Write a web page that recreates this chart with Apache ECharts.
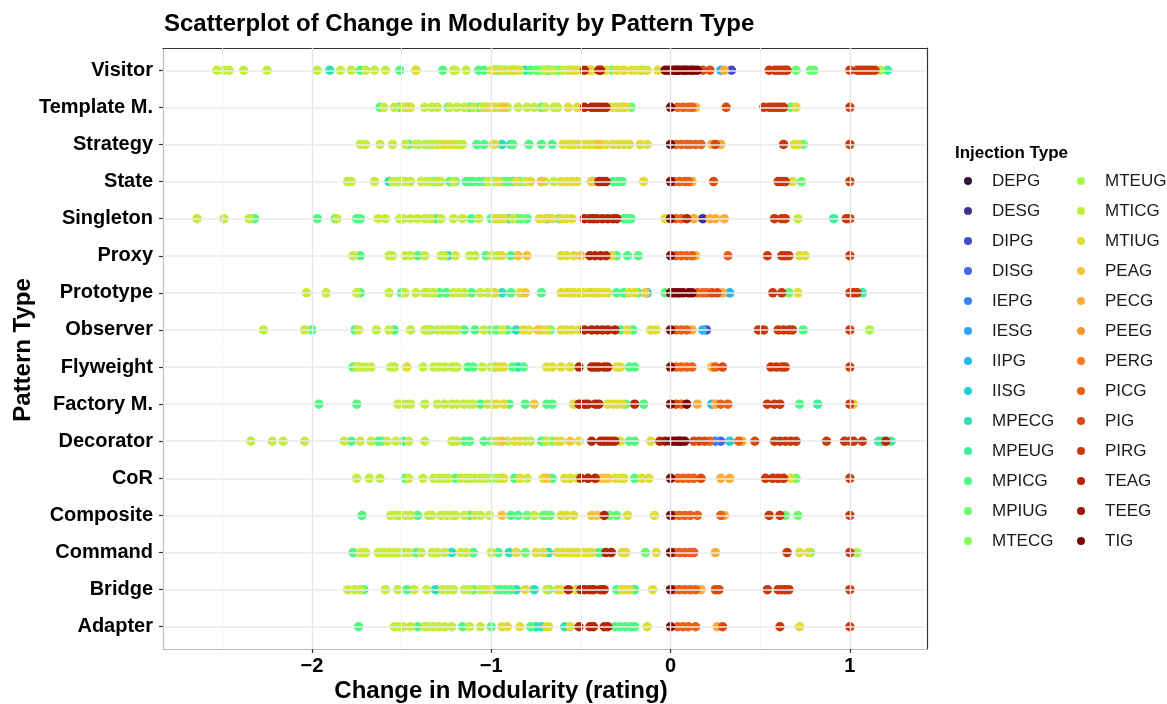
<!DOCTYPE html>
<html>
<head>
<meta charset="utf-8">
<script src="https://cdn.jsdelivr.net/npm/echarts@6/dist/echarts.min.js"></script>
<style>
  html, body { margin: 0; padding: 0; background: #ffffff; }
  #chart { width: 1167px; height: 704px; }
</style>
</head>
<body>
<div id="chart"></div>
<script>
// Pattern types, top to bottom
const patternTypes = ['Visitor', 'Template M.', 'Strategy', 'State', 'Singleton', 'Proxy', 'Prototype',
  'Observer', 'Flyweight', 'Factory M.', 'Decorator', 'CoR', 'Composite', 'Command', 'Bridge', 'Adapter'];

// Injection types (legend order)
const injectionTypes = ['DEPG', 'DESG', 'DIPG', 'DISG', 'IEPG', 'IESG', 'IIPG', 'IISG', 'MPECG', 'MPEUG',
  'MPICG', 'MPIUG', 'MTECG', 'MTEUG', 'MTICG', 'MTIUG', 'PEAG', 'PECG', 'PEEG', 'PERG', 'PICG', 'PIG',
  'PIRG', 'TEAG', 'TEEG', 'TIG'];

const xTicks = [-2, -1, 0, 1];
const xMinorGrid = [-2.5, -1.5, -0.5, 0.5];

// Change in modularity per pattern, grouped by injection type
const visitorPts = {
  MTICG: [-2.53, -2.49, -2.46, -2.38, -2.25, -1.97, -1.84, -1.78, -1.70, -1.65, -1.59, -1.42, -1.21, -1.20, -1.14, -1.00, -0.95, -0.90, -0.84, -0.70, -0.66, -0.60, -0.55, -0.45, -0.38, -0.27, -0.20],
  MPICG: [-1.73, -1.51, -1.27, -1.07, -1.04, -0.98, -0.92, -0.87, -0.78, -0.74, -0.62, -0.57, -0.16],
  MPECG: [-1.90, -0.96, -0.81, -0.68],
  MTIUG: [-1.42, -0.99, -0.94, -0.89, -0.86, -0.56, -0.53, -0.50, -0.44, -0.36, -0.30, -0.26, -0.22, -0.17, -0.13, -0.07],
  MPIUG: [-0.88, -0.75, -0.72, -0.70, -0.64, -0.33, 0.70, 0.78, 0.80],
  TEAG: [-0.48, -0.40, -0.39],
  PEAG: [-0.46],
  TEEG: [0.04, 0.08, 0.12, 0.13],
  TIG: [-0.03, -0.01, 0.00, 0.02, 0.03, 0.05, 0.07, 0.09, 0.11, 0.15],
  PIG: [0.18, 0.22],
  IIPG: [0.28],
  PECG: [0.30],
  DIPG: [0.34],
  PIRG: [0.55, 0.58, 0.60, 0.62, 0.64, 0.65, 1.00, 1.04, 1.06, 1.08, 1.10, 1.12, 1.14],
  MTEUG: [1.17],
  MPEUG: [1.21]
};
const templateMethodPts = {
  MPICG: [-1.62, -1.51, -1.47, -1.24, -1.12, -1.07, -0.72, -0.27],
  MTICG: [-1.60, -1.54, -1.49, -1.45, -1.37, -1.33, -1.30, -1.23, -1.19, -1.15, -1.10, -1.05, -1.03, -1.00, -0.99, -0.96, -0.91, -0.85, -0.80, -0.76, -0.70, -0.65, -0.63],
  MTIUG: [-1.46, -1.02, -0.98, -0.94, -0.57, -0.52, -0.33, -0.30, -0.27, -0.25, 0.70],
  MPECG: [-1.11],
  PEAG: [-0.93],
  TEAG: [-0.48, -0.44, -0.42, -0.40, -0.38, -0.36],
  MPIUG: [-0.22, 0.67],
  TIG: [0.00],
  PICG: [0.04, 0.07, 0.10, 0.12],
  PECG: [0.14],
  PIG: [0.31],
  PIRG: [0.52, 0.55, 0.57, 0.59, 0.61, 0.63, 1.00]
};
const strategyPts = {
  MTICG: [-1.73, -1.70, -1.62, -1.55, -1.48, -1.42, -1.37, -1.33, -1.30, -1.27, -1.24, -1.21, -1.18, -1.16, -0.98],
  MPICG: [-1.46, -1.41, -1.34, -1.30, -1.08, -1.04, -0.88, -0.79, -0.72, -0.66, -0.56, -0.42],
  MTIUG: [-1.26, -1.22, -0.99, -0.60, -0.57, -0.54, -0.51, -0.48, -0.45, -0.42, -0.39, -0.36, -0.32, -0.29, -0.26, -0.23, -0.17, -0.13, 0.69, 0.71],
  MPECG: [-0.94, -0.89],
  PEAG: [-0.40],
  MPIUG: [0.74],
  TIG: [0.00],
  PICG: [0.03, 0.06, 0.09, 0.11, 0.14, 0.17],
  PECG: [0.23, 0.28],
  PIG: [0.25],
  PIRG: [0.63, 1.00]
};
const statePts = {
  MTICG: [-1.80, -1.78, -1.65, -1.55, -1.53, -1.50, -1.48, -1.45, -1.39, -1.36, -1.34, -1.30, -1.28, -1.21, -1.02, -0.97, -0.81, -0.70, -0.65],
  MPICG: [-1.54, -1.51, -1.32, -1.29, -1.23, -1.20, -1.14, -1.12, -1.10, -1.07, -1.04, -0.99, -0.92, -0.32, -0.29, -0.27],
  MPECG: [-1.57, -0.88, -0.72],
  MPIUG: [-1.00, -0.94, -0.90, -0.84, 0.73],
  MTIUG: [-0.96, -0.86, -0.78, -0.61, -0.58, -0.55, -0.52, -0.15, 0.68],
  PEAG: [-0.72, -0.44, -0.42],
  TEAG: [-0.40, -0.38, -0.36],
  TIG: [0.00],
  PICG: [0.02, 0.05, 0.08, 0.10],
  PECG: [0.12],
  PIG: [0.24],
  PIRG: [0.60, 0.62, 0.64, 1.00]
};
const singletonPts = {
  MTICG: [-2.64, -2.49, -2.35, -1.86, -1.63, -1.59, -1.51, -1.49, -1.45, -1.41, -1.37, -1.34, -1.28, -1.21, -1.16, -1.07, -0.98, -0.88, 0.71],
  MPICG: [-2.32, -1.97, -1.87, -1.75, -1.73, -1.31, -1.11, -1.00, -0.85, -0.80, -0.26, -0.24, -0.22],
  MPECG: [-0.90, -0.69, -0.62],
  MTIUG: [-0.97, -0.93, -0.73, -0.70, -0.66, -0.61, -0.58, -0.55, -0.03],
  MPIUG: [-0.95, -0.83],
  TEAG: [-0.48, -0.45, -0.43, -0.41, -0.38, -0.35, -0.32, -0.30, 0.09],
  TIG: [0.00],
  PICG: [0.03, 0.06],
  PECG: [0.13, 0.22, 0.25, 0.30],
  DESG: [0.18],
  PIRG: [0.58, 0.62, 0.64, 0.98, 1.00],
  MPEUG: [0.91]
};
const proxyPts = {
  MTICG: [-1.77, -1.57, -1.55, -1.48, -1.45, -1.37, -1.28, -1.26, -1.20, -1.12, -1.09, -1.00, -0.97],
  MPICG: [-1.73, -1.41, -1.03, -0.89, -0.30, -0.24, -0.18],
  MPECG: [-1.24],
  MTIUG: [-0.94, -0.61, -0.58, -0.54, -0.33, 0.72, 0.75],
  PEAG: [-0.85, -0.80, -0.50],
  TEAG: [-0.45, -0.42, -0.39, -0.36],
  TIG: [0.00],
  PICG: [0.03, 0.06, 0.09, 0.12, 0.32],
  PECG: [0.14],
  PIRG: [0.54, 0.62, 0.64, 0.66, 1.00]
};
const prototypePts = {
  MTICG: [-2.03, -1.92, -1.75, -1.57, -1.48, -1.42, -1.37, -1.35, -1.32, -1.21, -1.18, -1.15, -1.06, -1.02, -0.99],
  MPICG: [-1.73, -1.50, -1.29, -1.25, -1.11, -0.89, -0.72, -0.30, -0.26, -0.18, -0.03],
  MPECG: [-0.94],
  MTIUG: [-0.98, -0.84, -0.61, -0.58, -0.56, -0.54, -0.51, -0.49, -0.46, -0.44, -0.42, -0.40, -0.38, -0.35, -0.23, -0.20, 0.71],
  PEAG: [-0.81, -0.14],
  IIPG: [-0.13, 0.33],
  TIG: [0.00, 0.02, 0.05, 0.07, 0.10, 0.12],
  TEEG: [0.04],
  PICG: [0.15, 0.18, 0.20],
  PIG: [0.23, 0.26],
  PECG: [0.29],
  PIRG: [0.57, 0.62, 1.00, 1.02, 1.04],
  MPIUG: [0.66],
  MPEUG: [1.07]
};
const observerPts = {
  MTICG: [-2.27, -2.04, -1.74, -1.64, -1.57, -1.45, -1.37, -1.35, -1.30, -1.27, -1.24, -1.22, -1.19, -1.04, -0.94, -0.72],
  MPICG: [-2.00, -1.76, -1.54, -1.34, -1.15, -1.09, -0.97, -0.91, -0.28, -0.21, 0.74],
  MPIUG: [-1.00, -0.67],
  MPECG: [-0.86],
  MTIUG: [-0.82, -0.79, -0.69, -0.61, -0.58, -0.55, -0.51, -0.24, -0.11, -0.08],
  PEAG: [-0.74],
  TEAG: [-0.48, -0.44, -0.41, -0.38, -0.35, -0.31],
  TIG: [0.00],
  PICG: [0.03, 0.06, 0.09],
  PECG: [0.12],
  IIPG: [0.18],
  DIPG: [0.20],
  PIRG: [0.49, 0.52, 0.60, 0.63, 0.66, 0.68, 1.00],
  MTEUG: [1.11]
};
const flyweightPts = {
  MTICG: [-1.75, -1.73, -1.70, -1.67, -1.56, -1.54, -1.38, -1.32, -1.29, -1.26, -1.22, -1.20, -1.19, -1.05, -1.00],
  MPICG: [-1.77, -1.13, -1.10, -0.98, -0.88, -0.82, -0.23, -0.20],
  MTIUG: [-1.47, -0.96, -0.93, -0.69, -0.66, -0.61, -0.56, -0.30, -0.28],
  MPECG: [-0.85],
  TEAG: [-0.51, -0.44, -0.42, -0.40, -0.37, -0.35],
  TIG: [0.00],
  PICG: [0.03, 0.06, 0.09, 0.12, 0.25],
  PECG: [0.23],
  PIG: [0.29],
  PIRG: [0.56, 0.59, 0.62, 0.64, 1.00]
};
const factoryMethodPts = {
  MTICG: [-1.52, -1.48, -1.45, -1.37, -1.30, -1.26, -1.22, -1.19, -1.15, -1.12, -1.10, -1.02, -0.99],
  MPICG: [-1.96, -1.75, -1.06, -0.90, -0.81, -0.69, -0.66, -0.15, 0.72],
  MTIUG: [-0.97, -0.93, -0.54, -0.50, -0.35, -0.32, -0.30, -0.27],
  MPIUG: [-0.25],
  PEAG: [-0.76, 1.02],
  TEAG: [-0.51, -0.48, -0.46, -0.42, -0.40, -0.20],
  TIG: [0.00, 0.09],
  PIG: [0.03],
  PICG: [0.06, 0.28, 0.32],
  PECG: [0.15, 0.25],
  IIPG: [0.23],
  PIRG: [0.54, 0.58, 0.61, 1.00],
  MPEUG: [0.82]
};
const decoratorPts = {
  MTICG: [-2.34, -2.22, -2.16, -2.04, -1.82, -1.73, -1.67, -1.58, -1.53, -1.46, -1.37, -1.22, -1.21, -1.19, -0.97, -0.91, -0.81, -0.78, -0.69],
  MPICG: [-1.78, -1.63, -1.61, -1.49, -1.15, -1.12, -1.04, -0.72, -0.23, -0.20],
  MPIUG: [-1.00, -0.70, -0.66],
  MTIUG: [-0.87, -0.84, -0.63, -0.61, -0.51, -0.28, -0.11],
  PEAG: [-0.94, -0.56],
  TEAG: [-0.44, -0.39, -0.37, -0.35, -0.33, -0.31, -0.06, 1.20],
  TEEG: [-0.03, 0.05],
  TIG: [0.00, 0.02, 0.04, 0.06, 0.08],
  PIG: [0.13, 0.16, 0.19, 0.47],
  PICG: [0.22, 0.38],
  IEPG: [0.25],
  DISG: [0.28],
  IISG: [0.33],
  PECG: [0.40],
  PIRG: [0.58, 0.61, 0.64, 0.67, 0.70, 0.87, 0.97, 1.00, 1.02, 1.07],
  MPEUG: [1.16, 1.18, 1.23]
};
const corPts = {
  MTICG: [-1.75, -1.68, -1.62, -1.46, -1.38, -1.32, -1.29, -1.26, -1.24, -1.17, -1.14, -1.12, -1.09, -1.06, -1.03, -0.97, -0.80],
  MPICG: [-1.48, -1.20, -0.87, -0.66, -0.20],
  MPIUG: [-1.00, -0.94, 0.70],
  MTIUG: [-0.93, -0.84, -0.71, -0.70, -0.59, -0.56, -0.52, -0.31, -0.28, -0.26, -0.16, -0.12, 0.67],
  PEAG: [-0.69, -0.39, -0.37, -0.35],
  TEAG: [-0.50, -0.46, -0.42],
  TIG: [0.00],
  PICG: [0.04, 0.07, 0.10, 0.13],
  PIG: [0.17],
  PECG: [0.28, 0.33],
  PIRG: [0.53, 0.57, 0.60, 0.63, 1.00]
};
const compositePts = {
  MTICG: [-1.56, -1.53, -1.51, -1.48, -1.45, -1.35, -1.33, -1.28, -1.25, -1.22, -1.20, -1.15, -1.09, -1.06, -1.01, -0.76],
  MPICG: [-1.72, -1.41, -1.12, -0.89, -0.85],
  MPIUG: [-0.80, -0.71, -0.67, -0.34, -0.30, 0.64, 0.71],
  MPECG: [-0.70],
  MTIUG: [-0.61, -0.58, -0.54, -0.24, -0.09],
  PEAG: [-0.94, -0.44, -0.41],
  TEAG: [-0.37],
  TIG: [0.00],
  PICG: [0.02, 0.05, 0.08, 0.11, 0.15, 0.28],
  PECG: [0.30],
  PIRG: [0.55, 0.61, 1.00]
};
const commandPts = {
  MTICG: [-1.73, -1.70, -1.63, -1.60, -1.57, -1.54, -1.51, -1.49, -1.46, -1.39, -1.33, -1.30, -1.26, -1.17, -1.14, -1.00, -0.71],
  MPICG: [-1.77, -1.42, -1.10, -0.96, -0.40, -0.37],
  MPECG: [-1.22, -0.90, -0.68],
  MTIUG: [-0.86, -0.75, -0.71, -0.63, -0.60, -0.57, -0.54, -0.52, -0.49, -0.46, -0.44, -0.27, -0.25, -0.08, 0.72, 0.77],
  MPIUG: [-0.81, -0.14, 0.78],
  TEAG: [-0.36, -0.33],
  TIG: [0.00],
  PICG: [0.02, 0.05, 0.08, 0.11, 0.13],
  PECG: [0.25],
  PIRG: [0.65, 1.00],
  MTEUG: [1.04]
};
const bridgePts = {
  MTICG: [-1.80, -1.76, -1.73, -1.59, -1.52, -1.43, -1.36, -1.27, -1.24, -1.21, -1.15, -1.12, -1.06, -1.03, -0.69],
  MPICG: [-1.71, -1.47, -1.10, -0.98, -0.95, -0.92, -0.89, -0.68, -0.30, -0.20],
  MPECG: [-1.31, -0.86, -0.76],
  MTIUG: [-1.00, -0.81, -0.63, -0.61, -0.53, -0.47, -0.41, -0.27, -0.25, -0.23, -0.10],
  TEAG: [-0.57, -0.50, -0.48, -0.45, -0.43, -0.39, -0.37],
  TIG: [0.00],
  PICG: [0.02, 0.05, 0.08, 0.11, 0.14],
  PECG: [0.17],
  PIG: [0.25, 0.27],
  PIRG: [0.54, 0.60, 0.62, 0.64, 0.66, 1.00]
};
const adapterPts = {
  MTICG: [-1.54, -1.51, -1.49, -1.45, -1.37, -1.35, -1.32, -1.29, -1.26, -1.22, -1.12, -1.06],
  MPICG: [-1.74, -1.41, -1.16, -1.00, -0.78, -0.31, -0.28, -0.25, -0.22, -0.20],
  MPECG: [-0.75, -0.72, -0.59],
  MTIUG: [-0.94, -0.91, -0.84, -0.69, -0.68, -0.56, -0.13, 0.72],
  TEAG: [-0.51, -0.45, -0.43, -0.37, -0.35],
  TIG: [0.00],
  PICG: [0.04, 0.07, 0.10, 0.14],
  PECG: [0.26],
  PIG: [0.29],
  PIRG: [0.61, 1.00]
};

const rows = [visitorPts, templateMethodPts, strategyPts, statePts, singletonPts, proxyPts, prototypePts,
  observerPts, flyweightPts, factoryMethodPts, decoratorPts, corPts, compositePts, commandPts, bridgePts, adapterPts];

// Turbo colour ramp: polynomial approximation in the middle, tabulated at the ends
function turbo(t) {
  const c = v => Math.round(255 * Math.max(0, Math.min(1, v)));
  const r = 0.13572138 + t * (4.61539260 + t * (-42.66032258 + t * (132.13108234 + t * (-152.94239396 + t * 59.28637943))));
  const g = 0.09140261 + t * (2.19418839 + t * (4.84296658 + t * (-14.18503333 + t * (4.27729857 + t * 2.82956604))));
  const b = 0.10667330 + t * (12.64194608 + t * (-60.58204836 + t * (110.36276771 + t * (-89.90310912 + t * 27.34824973))));
  return 'rgb(' + c(r) + ',' + c(g) + ',' + c(b) + ')';
}
const coolEnd = ['#30123b', '#3d338f'];
const warmEnd = ['#f4c43a', '#fdad35', '#fd962b', '#f67b20', '#ea6016', '#da4a0d', '#c83808', '#b42704', '#9b1803', '#7a0403'];
const palette = injectionTypes.map((_, k) => k < 2 ? coolEnd[k]
  : k >= 16 ? warmEnd[k - 16] : turbo(k / (injectionTypes.length - 1)));

const FONT = '"Liberation Sans", Arial, Helvetica, sans-serif';

// Grid lines drawn under the points
const gridLines = [];
xMinorGrid.forEach(v => gridLines.push({ xAxis: v, lineStyle: { color: '#f3f3f3', width: 1, type: 'solid' } }));
xTicks.forEach(v => gridLines.push({ xAxis: v, lineStyle: { color: '#e6e6e6', width: 1.4, type: 'solid' } }));
patternTypes.forEach((_, i) => gridLines.push({ yAxis: i, lineStyle: { color: '#ebebeb', width: 1.6, type: 'solid' } }));

const series = [{
  type: 'scatter',
  name: '__grid',
  data: [],
  z: 1,
  silent: true,
  markLine: { silent: true, symbol: ['none', 'none'], label: { show: false }, animation: false, data: gridLines }
}];
injectionTypes.forEach((t, k) => {
  const data = [];
  rows.forEach((row, i) => (row[t] || []).forEach(x => data.push([x, i])));
  series.push({
    type: 'scatter',
    name: t,
    data: data,
    symbol: 'circle',
    symbolSize: 9.5,
    itemStyle: { color: palette[k], opacity: 1 },
    emphasis: { disabled: true },
    z: 2
  });
});

const legendBase = {
  orient: 'vertical',
  icon: 'circle',
  itemWidth: 38,
  itemHeight: 8,
  itemGap: 10,
  selectedMode: false,
  textStyle: { fontFamily: FONT, fontSize: 17, color: '#1a1a1a', lineHeight: 20 }
};

const chart = echarts.init(document.getElementById('chart'), null, { renderer: 'canvas' });
chart.setOption({
  animation: false,
  backgroundColor: '#ffffff',
  color: palette,
  title: [
    { text: 'Scatterplot of Change in Modularity by Pattern Type', left: 159, top: 7,
      textStyle: { fontFamily: FONT, fontSize: 24, fontWeight: 'bold', color: '#000' } },
    { text: 'Injection Type', left: 950, top: 140,
      textStyle: { fontFamily: FONT, fontSize: 17, fontWeight: 'bold', color: '#000' } }
  ],
  legend: [
    Object.assign({}, legendBase, { left: 959, top: 166, data: injectionTypes.slice(0, 13) }),
    Object.assign({}, legendBase, { left: 1072, top: 166, data: injectionTypes.slice(13) })
  ],
  grid: { left: 163, right: 240, top: 48, bottom: 55, containLabel: false },
  xAxis: [{
    type: 'value',
    min: -2.83,
    max: 1.43,
    position: 'bottom',
    axisLine: { show: true, onZero: false, lineStyle: { color: '#bdbdbd', width: 1.2 } },
    axisTick: { show: true, customValues: xTicks, length: 4, lineStyle: { color: '#333333', width: 1.2 } },
    axisLabel: { customValues: xTicks, margin: 7, fontFamily: FONT, fontSize: 20, fontWeight: 'bold', color: '#000',
      formatter: v => String(v).replace('-', '\u2212') },
    splitLine: { show: false }
  }, {
    type: 'value',
    min: -2.83,
    max: 1.43,
    position: 'top',
    axisLine: { show: true, onZero: false, lineStyle: { color: '#333333', width: 1.2 } },
    axisTick: { show: false },
    axisLabel: { show: false },
    splitLine: { show: false }
  }],
  yAxis: [{
    type: 'value',
    min: -0.6,
    max: 15.6,
    inverse: true,
    position: 'left',
    axisLine: { show: true, onZero: false, lineStyle: { color: '#bdbdbd', width: 1.2 } },
    axisTick: { show: true, customValues: patternTypes.map((_, i) => i), length: 4, lineStyle: { color: '#333333', width: 1.2 } },
    axisLabel: { customValues: patternTypes.map((_, i) => i), margin: 10, fontFamily: FONT, fontSize: 20, fontWeight: 'bold', color: '#000',
      formatter: v => patternTypes[Math.round(v)] },
    splitLine: { show: false }
  }, {
    type: 'value',
    min: -0.6,
    max: 15.6,
    inverse: true,
    position: 'right',
    axisLine: { show: true, onZero: false, lineStyle: { color: '#333333', width: 1.2 } },
    axisTick: { show: false },
    axisLabel: { show: false },
    splitLine: { show: false }
  }],
  graphic: [
    { type: 'text', x: 501, y: 691, style: { text: 'Change in Modularity (rating)', fontFamily: FONT, fontSize: 24, fontWeight: 'bold',
      fill: '#000', align: 'center', verticalAlign: 'middle' } },
    { type: 'text', x: 23, y: 350, rotation: Math.PI / 2, style: { text: 'Pattern Type', fontFamily: FONT, fontSize: 24, fontWeight: 'bold',
      fill: '#000', align: 'center', verticalAlign: 'middle' } }
  ],
  series: series
});
</script>
</body>
</html>
